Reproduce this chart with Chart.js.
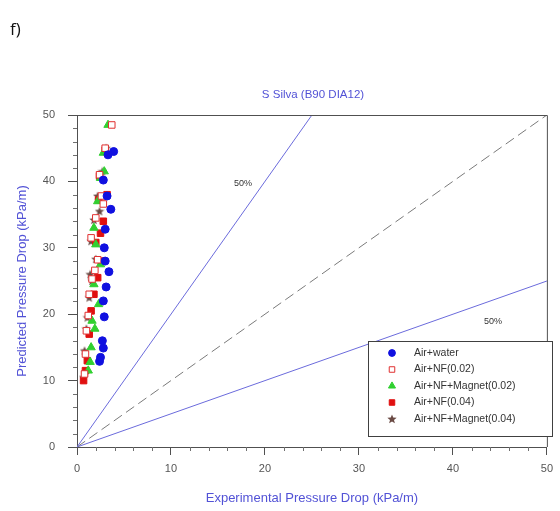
<!DOCTYPE html>
<html>
<head>
<meta charset="utf-8">
<script src="https://cdn.jsdelivr.net/npm/chart.js@4.4.0/dist/chart.umd.min.js"></script>
<style>
    html, body { margin: 0; padding: 0; background: #fff; }
    #wrap { width: 560px; height: 511px; position: relative; }
</style>
</head>
<body>
<div id="wrap"><canvas id="chart"></canvas></div>
<script>
"use strict";

// experimental (x) vs predicted (y) pressure drop, kPa/m
const waterX = [3.9, 3.3, 2.8, 3.6, 3.0, 2.9, 3.4, 3.1, 2.8, 2.9, 2.7, 2.8, 2.5, 2.4, 3.2, 3.0];
const waterY = [44.5, 44.0, 40.2, 35.8, 32.8, 30.0, 26.4, 24.1, 22.0, 19.6, 16.0, 14.9, 13.5, 12.9, 37.8, 28.0];

const nf002X = [3.7, 3.0, 2.4, 2.6, 2.0, 1.5, 2.2, 1.6, 1.3, 1.2, 1.0, 0.9, 0.8, 2.8, 1.9];
const nf002Y = [48.5, 45.0, 41.0, 37.8, 34.5, 31.5, 28.2, 25.3, 23.0, 19.8, 17.5, 14.0, 11.0, 36.6, 26.6];

const mag002X = [3.3, 2.8, 2.5, 2.2, 1.8, 2.0, 2.5, 1.8, 2.3, 1.6, 1.5, 1.4, 1.2, 2.9, 1.9];
const mag002Y = [48.5, 44.3, 40.5, 37.0, 33.0, 30.5, 27.5, 24.5, 21.5, 19.0, 15.0, 12.8, 11.5, 41.5, 17.8];

const nf004X = [3.0, 2.4, 2.3, 2.8, 2.0, 2.6, 2.2, 1.8, 1.5, 1.3, 1.1, 0.9, 0.7, 3.2, 2.5];
const nf004Y = [44.7, 40.8, 37.2, 34.0, 30.8, 28.0, 25.5, 23.0, 20.5, 17.0, 13.0, 11.5, 10.0, 38.0, 32.2];

const mag004X = [3.1, 2.7, 2.2, 1.8, 1.5, 2.0, 1.6, 1.3, 1.1, 1.0, 0.8, 0.7, 2.4, 1.4];
const mag004Y = [45.0, 41.5, 37.8, 34.2, 31.0, 28.3, 25.0, 22.5, 19.5, 17.8, 14.5, 10.5, 35.5, 26.0];

// reference lines: +50%, perfect agreement, -50%
const upperX = [0, 25];
const upperY = [0, 50];
const equalX = [0, 50];
const equalY = [0, 50];
const lowerX = [0, 50];
const lowerY = [0, 25];

const seriesNames = ['Air+water', 'Air+NF(0.02)', 'Air+NF+Magnet(0.02)', 'Air+NF(0.04)', 'Air+NF+Magnet(0.04)'];

const blueTxt = '#5252d6';
const greyTxt = '#555';

function pts(xs, ys) {
    return xs.map((x, i) => ({ x: x, y: ys[i] }));
}

// small filled star for the last series
function makeStar() {
    const c = document.createElement('canvas');
    c.width = 10;
    c.height = 10;
    const g = c.getContext('2d');
    g.fillStyle = '#6a4a44';
    g.beginPath();
    for (let i = 0; i < 10; i++) {
        const r = i % 2 === 0 ? 4.9 : 2.1;
        const a = -Math.PI / 2 + i * Math.PI / 5;
        const px = 5 + r * Math.cos(a);
        const py = 5.3 + r * Math.sin(a);
        if (i === 0) g.moveTo(px, py); else g.lineTo(px, py);
    }
    g.closePath();
    g.fill();
    return c;
}
const starImg = makeStar();

const markers = [
    { pointStyle: 'circle', pointRadius: 4, backgroundColor: '#1010e0', borderColor: '#1010e0', borderWidth: 1 },
    { pointStyle: 'rect', pointRadius: 4.6, backgroundColor: '#ffffff', borderColor: '#e03030', borderWidth: 1 },
    { pointStyle: 'triangle', pointRadius: 4.8, backgroundColor: '#30d030', borderColor: '#30d030', borderWidth: 1 },
    { pointStyle: 'rect', pointRadius: 4.6, backgroundColor: '#e01010', borderColor: '#e01010', borderWidth: 1 },
    { pointStyle: starImg, pointRadius: 5, backgroundColor: '#6a4a44', borderColor: '#6a4a44', borderWidth: 1 }
];

const seriesData = [
    pts(waterX, waterY),
    pts(nf002X, nf002Y),
    pts(mag002X, mag002Y),
    pts(nf004X, nf004Y),
    pts(mag004X, mag004Y)
];

const lineSets = [
    { data: pts(upperX, upperY), borderColor: '#6b6bdc', borderDash: [] },
    { data: pts(equalX, equalY), borderColor: '#7a7a7a', borderDash: [10, 5] },
    { data: pts(lowerX, lowerY), borderColor: '#6b6bdc', borderDash: [] }
].map(l => Object.assign({
    type: 'line',
    showLine: true,
    borderWidth: 1,
    pointRadius: 0,
    fill: false,
    order: 10
}, l));

const datasets = lineSets.concat(seriesData.map((d, i) => Object.assign({
    type: 'scatter',
    label: seriesNames[i],
    data: d,
    order: i
}, markers[i])));

// frame, minor ticks, legend and free texts
const decorations = {
    id: 'decorations',
    afterDatasetsDraw(chart) {
        const ctx = chart.ctx;
        const a = chart.chartArea;
        const xs = chart.scales.x;
        const ys = chart.scales.y;

        ctx.save();
        ctx.strokeStyle = '#505050';
        ctx.lineWidth = 1;
        ctx.beginPath();
        ctx.moveTo(a.left, a.top + 0.5);
        ctx.lineTo(a.right + 0.5, a.top + 0.5);
        ctx.lineTo(a.right + 0.5, a.bottom);
        ctx.stroke();

        // minor ticks
        ctx.strokeStyle = '#707070';
        ctx.beginPath();
        for (let v = 2; v < 50; v += 2) {
            if (v % 10 === 0) continue;
            const px = Math.round(xs.getPixelForValue(v)) + 0.5;
            ctx.moveTo(px, a.bottom);
            ctx.lineTo(px, a.bottom + 4);
            const py = Math.round(ys.getPixelForValue(v)) + 0.5;
            ctx.moveTo(a.left, py);
            ctx.lineTo(a.left - 4, py);
        }
        ctx.stroke();

        // legend
        const lx = 368, ly = 341, lw = 184, lh = 95;
        ctx.fillStyle = '#ffffff';
        ctx.fillRect(lx, ly, lw, lh);
        ctx.strokeStyle = '#404040';
        ctx.strokeRect(lx + 0.5, ly + 0.5, lw, lh);
        ctx.font = '10.5px "Liberation Sans", Arial, sans-serif';
        ctx.textBaseline = 'middle';
        seriesNames.forEach((name, i) => {
            const m = markers[i];
            const cy = ly + 12 + i * 16.5;
            ctx.fillStyle = m.backgroundColor;
            ctx.strokeStyle = m.borderColor;
            ctx.lineWidth = m.borderWidth;
            Chart.helpers.drawPoint(ctx, {
                pointStyle: m.pointStyle,
                radius: m.pointRadius * 0.85,
                rotation: 0,
                borderWidth: m.borderWidth
            }, 392, cy);
            ctx.fillStyle = '#333';
            ctx.fillText(name, 414, cy);
        });

        // texts
        ctx.fillStyle = '#333';
        ctx.font = '9px "Liberation Sans", Arial, sans-serif';
        ctx.textAlign = 'center';
        ctx.fillText('50%', 243, 184);
        ctx.fillText('50%', 493, 322);

        ctx.fillStyle = blueTxt;
        ctx.font = '11.5px "Liberation Sans", Arial, sans-serif';
        ctx.fillText('S Silva (B90 DIA12)', 313, 95);

        ctx.fillStyle = '#111';
        ctx.textAlign = 'left';
        ctx.font = '17px "Open Sans", "Liberation Sans", sans-serif';
        ctx.fillText('f)', 10, 30);
        ctx.restore();
    }
};

new Chart(document.getElementById('chart'), {
    data: { datasets: datasets },
    options: {
        responsive: true,
        maintainAspectRatio: false,
        animation: false,
        layout: { padding: { top: 115, right: 10, left: 15, bottom: 3 } },
        plugins: {
            legend: { display: false },
            tooltip: { enabled: false }
        },
        scales: {
            x: {
                type: 'linear',
                min: 0,
                max: 50,
                afterFit: (scale) => { scale.height = 511 - 447 - 3; },
                border: { display: true, color: '#505050', width: 1 },
                grid: { drawOnChartArea: false, tickLength: 8, color: '#505050' },
                ticks: {
                    stepSize: 10,
                    padding: 7,
                    color: greyTxt,
                    font: { size: 11, family: '"Liberation Sans", Arial, sans-serif' }
                },
                title: {
                    display: true,
                    text: 'Experimental Pressure Drop (kPa/m)',
                    color: blueTxt,
                    padding: { top: 0, bottom: 2 },
                    font: { size: 13, family: '"Liberation Sans", Arial, sans-serif' }
                }
            },
            y: {
                type: 'linear',
                min: 0,
                max: 50,
                afterFit: (scale) => { scale.width = 77 - 15; },
                border: { display: true, color: '#505050', width: 1 },
                grid: { drawOnChartArea: false, tickLength: 9, color: '#505050' },
                ticks: {
                    stepSize: 10,
                    padding: 13,
                    color: greyTxt,
                    font: { size: 11, family: '"Liberation Sans", Arial, sans-serif' }
                },
                title: {
                    display: true,
                    text: 'Predicted Pressure Drop (kPa/m)',
                    color: blueTxt,
                    padding: { top: 0, bottom: 0 },
                    font: { size: 13, family: '"Liberation Sans", Arial, sans-serif' }
                }
            }
        }
    },
    plugins: [decorations]
});
</script>
</body>
</html>
